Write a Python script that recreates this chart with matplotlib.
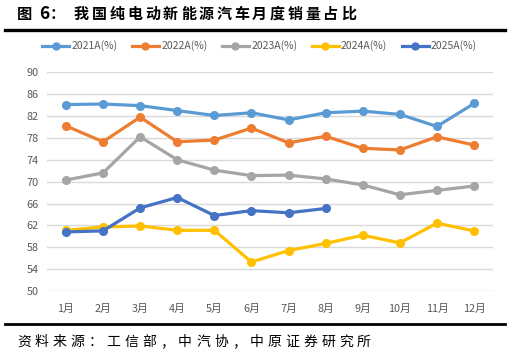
import matplotlib
matplotlib.use("Agg")
import matplotlib.pyplot as plt
from matplotlib.lines import Line2D

plt.rcParams['font.family'] = ['Noto Sans CJK SC', 'DejaVu Sans']

months = ['1月', '2月', '3月', '4月', '5月', '6月', '7月', '8月', '9月', '10月', '11月', '12月']
labels = ['2021A(%)', '2022A(%)', '2023A(%)', '2024A(%)', '2025A(%)']
colors = ['#5B9BD5', '#ED7D31', '#A5A5A5', '#FFC000', '#4472C4']

s2021 = [84.1, 84.2, 83.9, 83.0, 82.1, 82.6, 81.3, 82.6, 82.9, 82.3, 80.1, 84.3]
s2022 = [80.2, 77.3, 81.8, 77.3, 77.6, 79.8, 77.1, 78.3, 76.1, 75.8, 78.2, 76.7]
s2023 = [70.3, 71.6, 78.2, 74.0, 72.1, 71.1, 71.2, 70.5, 69.4, 67.6, 68.4, 69.2]
s2024 = [61.1, 61.7, 61.9, 61.1, 61.1, 55.3, 57.4, 58.7, 60.2, 58.8, 62.4, 61.0]
s2025 = [60.8, 61.0, 65.2, 67.1, 63.8, 64.7, 64.3, 65.1]
series = [s2021, s2022, s2023, s2024, s2025]

yticks = [50, 54, 58, 62, 66, 70, 74, 78, 82, 86, 90]

title = '我国纯电动新能源汽车月度销量占比'
source = '资料来源：工信部，中汽协，中原证券研究所'

W, H = 511, 358


def spaced_text(fig, s, x0, y, step, **kw):
    # draw text one char at a time to mimic the wide letter spacing
    for i, ch in enumerate(s):
        fig.text((x0 + i * step) / W, 1 - y / H, ch, va='center', ha='left', **kw)


fig = plt.figure(figsize=(W / 100, H / 100), dpi=100)
ax = fig.add_axes([47 / W, 1 - 291 / H, (493 - 47) / W, (291 - 72.3) / H])

x = list(range(1, 13))
for vals, c in zip(series, colors):
    ax.plot(x[:len(vals)], vals, color=c, lw=2.3, marker='o', ms=5.5, zorder=3)

ax.set_xlim(0.49, 12.51)
ax.set_ylim(50, 90)
ax.set_yticks(yticks)
ax.set_xticks(x)
ax.set_xticklabels(months)
ax.grid(axis='y', color='#D9D9D9', lw=1)
ax.set_axisbelow(True)
for sp in ax.spines.values():
    sp.set_visible(False)
ax.tick_params(length=0, labelsize=7.8, colors='#595959', pad=6)
ax.tick_params(axis='x', pad=9)

# legend
handles = [Line2D([], [], color=c, lw=2.3, marker='o', ms=5) for c in colors]
fig.legend(handles, labels, loc='center', bbox_to_anchor=(0.508, 1 - 46 / H), ncol=5,
           frameon=False, fontsize=7.5, labelcolor='#595959', handlelength=2.6,
           handletextpad=0.2, columnspacing=1.4)

# title and rules
fig.text(17 / W, 1 - 14 / H, '图', fontsize=11, fontweight='bold', va='center', ha='left')
fig.text(39 / W, 1 - 14 / H, '6', fontsize=12.5, fontweight='bold', va='center', ha='left')
fig.text(50 / W, 1 - 14 / H, '：', fontsize=11, fontweight='bold', va='center', ha='left')
spaced_text(fig, title, 74, 14, 17.8, fontsize=10.8, fontweight='bold')
fig.add_artist(Line2D([5 / W, 505 / W], [1 - 30 / H] * 2, color='black', lw=2.4))
fig.add_artist(Line2D([5 / W, 505 / W], [1 - 324 / H] * 2, color='black', lw=2.0))
spaced_text(fig, source, 17, 342, 17.9, fontsize=10)

fig.savefig('out.png', dpi=100)
